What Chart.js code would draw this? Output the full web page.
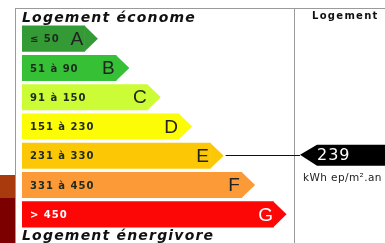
<!DOCTYPE html>
<html>
<head>
<meta charset="utf-8">
<script src="https://cdn.jsdelivr.net/npm/chart.js@4/dist/chart.umd.min.js"></script>
<style>
html,body{margin:0;padding:0;background:#fff;overflow:hidden;}
canvas{display:block;}
</style>
</head>
<body>
<canvas id="c" width="385" height="243"></canvas>
<script>
// ---- data ----
const classes = ['A', 'B', 'C', 'D', 'E', 'F', 'G'];
const ranges = ['≤ 50', '51 à 90', '91 à 150', '151 à 230', '231 à 330', '331 à 450', '> 450'];
const upperBounds = [50, 90, 150, 230, 330, 450, Infinity];
const barLengths = [2, 3, 4, 5, 6, 7, 8];
const consumption = 239;
const unitLabel = 'kWh ep/m².an';
const topTitle = 'Logement économe';
const bottomTitle = 'Logement énergivore';
const panelTitle = 'Logement';

// ---- styles ----
const barColors = ['#339a36', '#36c036', '#ccfc35', '#fcfc06', '#fcc806', '#fc9a38', '#fc0606'];
const TIP = 13;

const dpePlugin = {
  id: 'dpe',
  beforeDraw(chart) {
    const ctx = chart.ctx;
    ctx.save();
    ctx.fillStyle = '#fff';
    ctx.fillRect(0, 0, chart.width, chart.height);
    ctx.fillStyle = '#a83a0e';
    ctx.fillRect(0, 175, 15, 23);
    ctx.fillStyle = '#7c0000';
    ctx.fillRect(0, 198, 15, 45);
    ctx.strokeStyle = '#9a9a9a';
    ctx.lineWidth = 1;
    ctx.beginPath();
    ctx.moveTo(15, 8.5); ctx.lineTo(385, 8.5);
    ctx.moveTo(15.5, 8); ctx.lineTo(15.5, 243);
    ctx.moveTo(294.5, 8); ctx.lineTo(294.5, 243);
    ctx.stroke();
    ctx.restore();
  },
  afterDatasetsDraw(chart) {
    const ctx = chart.ctx;
    const meta = chart.getDatasetMeta(0);
    ctx.save();
    meta.data.forEach((bar, i) => {
      const h = bar.height;
      ctx.fillStyle = barColors[i];
      ctx.beginPath();
      ctx.moveTo(bar.x - 0.5, bar.y - h / 2);
      ctx.lineTo(bar.x + TIP, bar.y);
      ctx.lineTo(bar.x - 0.5, bar.y + h / 2);
      ctx.closePath();
      ctx.fill();
      const light = i === classes.length - 1;
      ctx.fillStyle = light ? '#ffffff' : '#1d2a1d';
      ctx.font = 'bold 10px "DejaVu Sans"';
      ctx.letterSpacing = '1px';
      ctx.textAlign = 'left';
      ctx.textBaseline = 'middle';
      ctx.fillText(ranges[i], 30, bar.y + 1);
      ctx.letterSpacing = '0px';
      ctx.fillStyle = light ? '#ffffff' : '#222222';
      ctx.font = '19px "Liberation Sans"';
      ctx.textAlign = 'center';
      ctx.fillText(classes[i], bar.x - 8, bar.y + 1);
    });

    ctx.fillStyle = '#111';
    ctx.textAlign = 'left';
    ctx.textBaseline = 'alphabetic';
    ctx.font = 'italic bold 14px "DejaVu Sans"';
    ctx.letterSpacing = '1.2px';
    ctx.fillText(topTitle, 22, 22);
    ctx.fillText(bottomTitle, 22, 240);
    ctx.font = 'bold 10px "DejaVu Sans"';
    ctx.letterSpacing = '1.3px';
    ctx.fillText(panelTitle, 312, 19);

    const idx = upperBounds.findIndex(b => consumption <= b);
    const target = meta.data[idx];
    const cy = target.y;
    const tipX = target.x + TIP;
    ctx.letterSpacing = '0px';
    ctx.strokeStyle = '#111';
    ctx.lineWidth = 1;
    ctx.beginPath();
    ctx.moveTo(tipX + 2, Math.round(cy) - 0.5);
    ctx.lineTo(300, Math.round(cy) - 0.5);
    ctx.stroke();
    ctx.fillStyle = '#000';
    ctx.beginPath();
    ctx.moveTo(300, cy - 1);
    ctx.lineTo(317, cy - 11);
    ctx.lineTo(386, cy - 11);
    ctx.lineTo(386, cy + 10);
    ctx.lineTo(317, cy + 10);
    ctx.closePath();
    ctx.fill();
    ctx.fillStyle = '#fff';
    ctx.font = '16px "DejaVu Sans"';
    ctx.letterSpacing = '1px';
    ctx.textBaseline = 'middle';
    ctx.fillText(String(consumption), 317, cy);
    ctx.fillStyle = '#222';
    ctx.font = '10.5px "DejaVu Sans"';
    ctx.letterSpacing = '0.4px';
    ctx.fillText(unitLabel, 303, cy + 22);
    ctx.restore();
  }
};

new Chart(document.getElementById('c'), {
  type: 'bar',
  data: {
    labels: classes,
    datasets: [{
      data: barLengths,
      backgroundColor: barColors,
      borderWidth: 0,
      barPercentage: 0.89,
      categoryPercentage: 1
    }]
  },
  options: {
    indexAxis: 'y',
    responsive: false,
    animation: false,
    events: [],
    layout: { padding: { left: 22, right: 80, top: 24, bottom: 14 } },
    plugins: { legend: { display: false }, tooltip: { enabled: false } },
    scales: {
      x: { display: false, min: 0, max: 9 },
      y: { display: false }
    }
  },
  plugins: [dpePlugin]
});
</script>
</body>
</html>
